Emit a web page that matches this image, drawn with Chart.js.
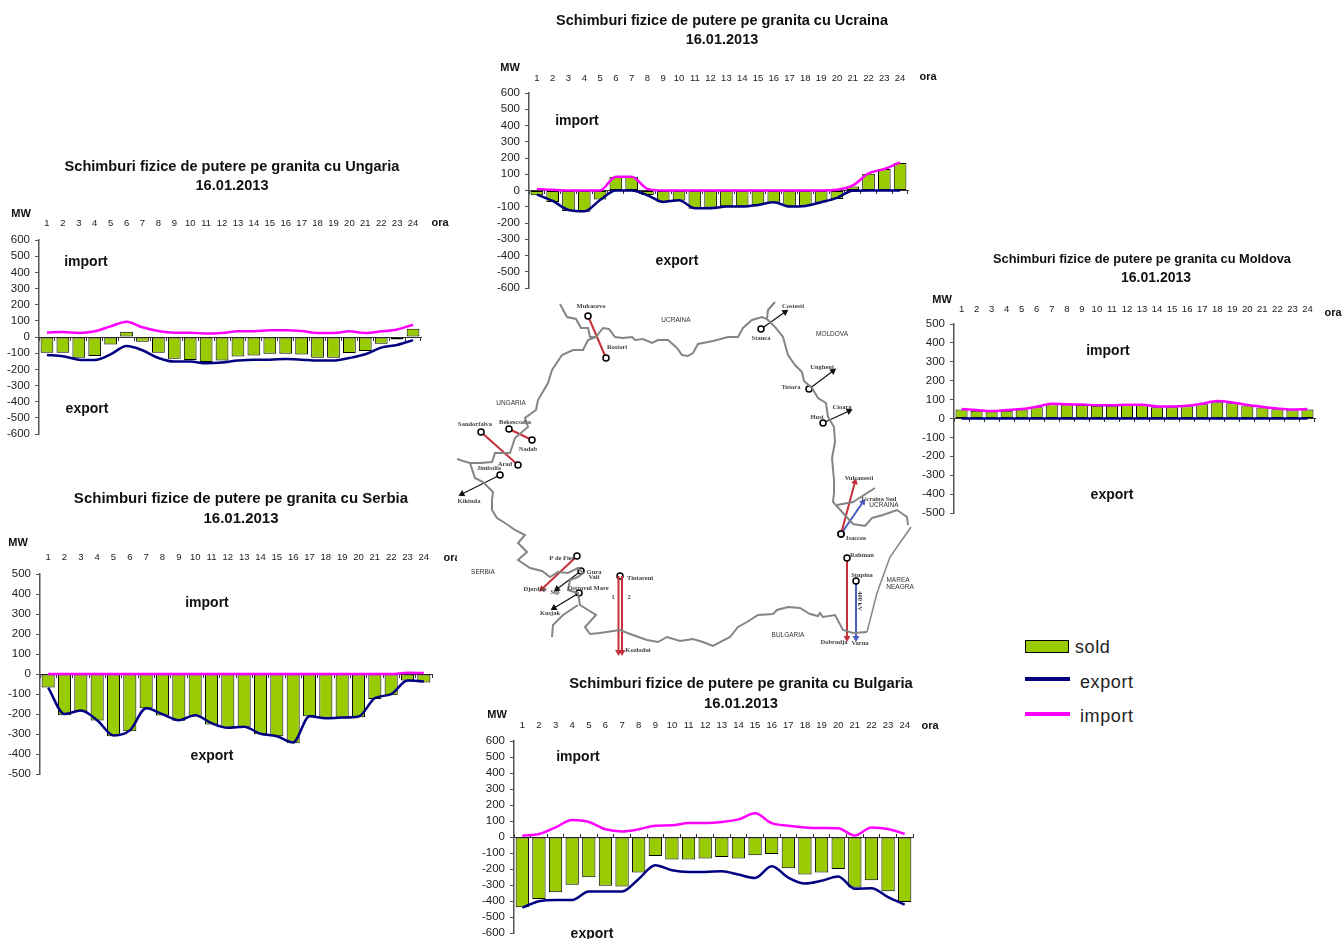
<!DOCTYPE html>
<html>
<head>
<meta charset="utf-8">
<title>Schimburi fizice de putere</title>
<script src="https://cdn.jsdelivr.net/npm/chart.js@4"></script>
<style>
html, body { margin: 0; padding: 0; background: #fff; overflow: hidden; width: 1342px; height: 939px; }
canvas { position: absolute; }
#map { background: #fff; z-index: 2; }
.lg { position: absolute; font: 18px "Liberation Sans", Arial, sans-serif; color: #222; letter-spacing: 0.6px; line-height: 20px; z-index: 3; }
.sw { position: absolute; z-index: 3; }
</style>
</head>
<body>
<canvas id="ungaria"></canvas>
<canvas id="ucraina"></canvas>
<canvas id="moldova"></canvas>
<canvas id="serbia"></canvas>
<canvas id="bulgaria"></canvas>
<canvas id="map"></canvas>

<div class="sw" style="left:1025px;top:640px;width:42px;height:11px;background:#99cc00;border:1px solid #000"></div>
<div class="lg" style="left:1075px;top:637px">sold</div>
<div class="sw" style="left:1025px;top:677px;width:45px;height:4px;background:#000080"></div>
<div class="lg" style="left:1080px;top:672px">export</div>
<div class="sw" style="left:1025px;top:712px;width:45px;height:4px;background:#ff00ff"></div>
<div class="lg" style="left:1080px;top:706px">import</div>

<script>
var hours = ['1','2','3','4','5','6','7','8','9','10','11','12','13','14','15','16','17','18','19','20','21','22','23','24'];

var ungariaSold = [-97,-97,-128,-117,-47,33,-29,-97,-134,-142,-154,-146,-121,-115,-103,-103,-109,-128,-128,-99,-86,-41,-16,51];
var ungariaExport = [-111,-119,-140,-142,-107,-56,-82,-130,-152,-152,-163,-158,-146,-140,-140,-136,-140,-146,-146,-130,-107,-66,-49,-19];
var ungariaImport = [27,31,25,35,66,95,60,37,27,27,21,25,35,35,41,41,37,25,25,35,25,35,47,76];

var ucrainaSold = [-29,-70,-126,-130,-56,85,85,-27,-72,-62,-113,-105,-97,-97,-89,-74,-99,-97,-74,-52,25,103,132,169];
var ucrainaExport = [-25,-64,-120,-128,-58,0,0,-29,-70,-60,-109,-109,-99,-99,-89,-72,-99,-95,-72,-45,-2,0,0,0];
var ucrainaImport = [10,4,0,0,0,85,85,10,0,0,0,0,0,0,0,0,0,0,0,4,31,105,132,173];

var moldovaSold = [48,41,37,41,48,60,76,74,72,67,67,71,71,60,60,65,76,86,81,69,58,49,44,48];
var moldovaExport = [0,0,0,0,0,0,0,0,0,0,0,0,0,0,0,0,0,0,0,0,0,0,0,0];
var moldovaImport = [50,45,40,45,50,62,78,75,74,70,70,73,73,64,64,68,78,92,85,72,62,53,48,50];

var serbiaSold = [-68,-206,-188,-233,-311,-286,-171,-208,-234,-209,-252,-269,-264,-301,-311,-346,-211,-219,-218,-216,-125,-106,-33,-42];
var serbiaExport = [-68,-200,-183,-231,-307,-282,-171,-201,-231,-206,-246,-269,-264,-299,-311,-342,-211,-221,-218,-213,-121,-101,-33,-37];
var serbiaImport = [0,0,0,0,0,0,0,0,0,0,0,0,0,0,0,0,0,0,0,0,0,0,6,5];

var bulgariaSold = [-439,-387,-345,-299,-252,-304,-310,-222,-119,-141,-141,-135,-125,-135,-114,-106,-195,-235,-222,-200,-316,-270,-339,-407];
var bulgariaExport = [-441,-401,-393,-393,-341,-341,-341,-262,-177,-208,-218,-218,-214,-235,-256,-183,-254,-291,-274,-247,-324,-320,-376,-422];
var bulgariaImport = [8,19,60,106,94,48,35,48,71,73,87,87,94,110,148,87,71,60,56,54,10,60,50,19];

// map: border lines, in picture coordinates
var borderNorth = [[560,304],[567,317],[576,319],[581,328],[588,328],[590,337],[596,337],[603,328],[609,329],[615,337],[623,338],[632,337],[635,340],[643,339],[652,343],[658,340],[668,340],[677,348],[682,355],[688,356],[693,353],[698,344],[713,341],[728,337],[738,337],[743,328],[752,320],[762,317],[767,319],[775,327],[783,337],[788,355],[795,365],[802,372],[804,381],[812,388],[818,398],[826,403],[828,417],[834,427],[835,442],[832,458],[834,480],[834,493],[833,502],[843,513],[853,524],[865,526],[872,518],[883,515],[897,510],[907,517],[908,525]];
var borderCostesti = [[767,319],[768,310],[775,302]];
var borderUkraineSouth = [[837,505],[853,502],[875,488]];
var coast = [[911,527],[890,557],[877,593],[867,632]];
var borderSouth = [[867,632],[853,633],[843,630],[835,615],[823,617],[820,613],[818,616],[810,614],[800,608],[788,607],[777,610],[773,614],[758,615],[747,622],[738,627],[730,637],[713,646],[703,642],[693,639],[680,641],[667,637],[658,642],[647,640],[630,634],[620,630],[600,633],[590,634],[585,627],[596,615],[580,605],[578,593],[568,590],[570,580],[578,577],[583,573],[578,568],[568,573],[558,572],[550,577],[542,571],[530,568],[518,560],[527,552],[518,543],[525,535],[515,530],[505,523],[497,518],[492,510],[492,500],[493,492],[483,482],[475,478],[470,463],[480,463],[492,462],[495,453],[510,453],[515,438],[528,427],[525,418],[536,410],[538,400],[548,383],[552,370],[562,355],[573,350],[583,350],[588,340],[596,337]];
var borderSpurWest = [[470,463],[463,461],[457,459]];
var borderSpurBulgaria = [[578,605],[563,615],[553,625],[552,637]];

var linkRed = '#c5303a';
var linkBlue = '#4a5cc0';
var linkBlack = '#111111';
// from, to, colour, end style, start circle size
var mapLinks = [
  [[588,316],[606,358],linkRed,'circle',3],
  [[481,432],[518,465],linkRed,'circle',3],
  [[509,429],[532,440],linkRed,'circle',3],
  [[500,475],[462,494],linkBlack,'triangle',3],
  [[761,329],[785,312],linkBlack,'triangle',3],
  [[809,389],[833,371],linkBlack,'triangle',3],
  [[823,423],[849,411],linkBlack,'triangle',3],
  [[841,534],[855,482],linkRed,'triangle',3],
  [[841,534],[863,502],linkBlue,'triangle',3],
  [[847,558],[847,638],linkRed,'triangle',3],
  [[856,581],[856,638],linkBlue,'triangle',3],
  [[618.5,576],[618.5,652],linkRed,'triangle',0],
  [[622,576],[622,652],linkRed,'triangle',0],
  [[620,576],[620,578],linkRed,'line',3],
  [[577,556],[542,589],linkRed,'triangle',3],
  [[581,571],[557,589],linkBlack,'triangle',3],
  [[579,593],[554,608],linkBlack,'triangle',3]
];

var countryLabels = [['UCRAINA',676,320],['UNGARIA',511,403],['MOLDOVA',832,334],['UCRAINA',884,505],['MAREA',898,580],['NEAGRA',900,587],['BULGARIA',788,635],['SERBIA',483,572]];
var placeLabels = [['Mukacevo',591,306],['Rosiori',617,347],['Sandorfalva',475,424],['Bekescsaba',515,422],['Nadab',528,449],['Arad',505,464],['Jimbolia',489,468],['Kikinda',469,501],['Costesti',793,306],['Stanca',761,338],['Ungheni',822,367],['Tutora',791,387],['Cioara',842,407],['Husi',817,417],['Vulcanesti',859,478],['Ucraina Sud',879,499],['Isaccea',856,538],['Rahman',862,555],['Stupina',862,575],['Dobrudja',834,642],['Varna',860,643],['P de Fier',562,558],['Gura',594,572],['Vaii',594,577],['Djerdap',535,589],['Sip',555,592],['Ostrovul Mare',588,588],['Kusjak',550,613],['Tintareni',640,578],['1',613,597],['2',629,597],['Kozlodui',638,650]];

Chart.defaults.font.family = '"Liberation Sans", Arial, sans-serif';
Chart.defaults.color = '#222';

function borderChart(id, cfg, sold, exp, imp) {
  var canvas = document.getElementById(id);
  canvas.width = cfg.w;
  canvas.height = cfg.bottom - cfg.y + 20;
  canvas.style.left = cfg.x + 'px';
  canvas.style.top = cfg.y + 'px';

  var notes = {
    id: 'notes',
    afterDatasetsDraw: function (chart) {
      var c = chart.ctx;
      var oy = cfg.y - 1;
      c.save();
      c.textAlign = 'center';
      c.textBaseline = 'middle';
      c.fillStyle = '#111';
      c.font = 'bold ' + cfg.titleSize + 'px "Liberation Sans", Arial, sans-serif';
      c.fillText(cfg.title, cfg.tx - cfg.x, cfg.ty[0] - oy);
      c.font = 'bold ' + (cfg.dateSize || cfg.titleSize) + 'px "Liberation Sans", Arial, sans-serif';
      c.fillText('16.01.2013', (cfg.dx || cfg.tx) - cfg.x, cfg.ty[1] - oy);
      c.font = 'bold 11px "Liberation Sans", Arial, sans-serif';
      c.fillText('MW', cfg.mw[0] - cfg.x, cfg.mw[1] - oy);
      c.fillText('ora', cfg.ora[0] - cfg.x, cfg.ora[1] - oy);
      c.font = 'bold 14px "Liberation Sans", Arial, sans-serif';
      c.fillText('import', cfg.imp[0] - cfg.x, cfg.imp[1] - oy);
      c.fillText('export', cfg.exp[0] - cfg.x, cfg.exp[1] - oy);
      c.restore();
    }
  };

  return new Chart(canvas, {
    data: {
      labels: hours,
      datasets: [
        { type: 'line', label: 'import', data: imp, borderColor: '#ff00ff', borderWidth: 2.5, pointRadius: 0, cubicInterpolationMode: 'monotone', order: 1 },
        { type: 'line', label: 'export', data: exp, borderColor: '#000080', borderWidth: 2.5, pointRadius: 0, cubicInterpolationMode: 'monotone', order: 2 },
        { type: 'bar', label: 'sold', data: sold, backgroundColor: '#99cc00', borderColor: '#000', borderWidth: 1, borderSkipped: false, barPercentage: 0.8, categoryPercentage: 1, order: 3 }
      ]
    },
    options: {
      responsive: false,
      animation: false,
      events: [],
      layout: {
        autoPadding: false,
        padding: { left: 0, top: 0, right: cfg.x + cfg.w - cfg.right, bottom: 20 }
      },
      plugins: {
        legend: { display: false },
        tooltip: { enabled: false },
        title: { display: false }
      },
      scales: {
        x: {
          position: 'top',
          grid: { display: false },
          border: { display: false },
          ticks: { font: { size: 9.5 }, padding: cfg.pad, maxRotation: 0, autoSkip: false },
          afterFit: function (s) { s.height = cfg.top - cfg.y; }
        },
        x2: {
          type: 'category',
          axis: 'x',
          position: { y: 0 },
          offset: true,
          border: { display: true, color: '#333', width: 1 },
          grid: { offset: true, drawOnChartArea: false, drawTicks: true, tickLength: cfg.tick, color: '#333' },
          ticks: { display: false }
        },
        y: {
          min: cfg.min,
          max: cfg.max,
          border: { display: true, color: '#555', width: 1.5 },
          grid: { drawOnChartArea: false, drawTicks: true, tickLength: 4, color: '#555' },
          ticks: { stepSize: 100, autoSkip: false, font: { size: 11.5 }, padding: 5 },
          afterFit: function (s) { s.width = cfg.left - cfg.x; }
        }
      }
    },
    plugins: [notes]
  });
}

borderChart('ungaria', {
  title: 'Schimburi fizice de putere pe granita cu Ungaria', titleSize: 14.6, tx: 232, ty: [166, 185],
  x: 0, y: 156, w: 464, left: 39, right: 421, top: 240, bottom: 434,
  min: -600, max: 600, pad: 3, tick: 3,
  mw: [21, 213], ora: [440, 222], imp: [86, 261], exp: [87, 408]
}, ungariaSold, ungariaExport, ungariaImport);

borderChart('ucraina', {
  title: 'Schimburi fizice de putere pe granita cu Ucraina', titleSize: 14.5, tx: 722, ty: [20, 39],
  x: 490, y: 10, w: 464, left: 529, right: 908, top: 93, bottom: 288,
  min: -600, max: 600, pad: 1, tick: 3,
  mw: [510, 67], ora: [928, 76], imp: [577, 120], exp: [677, 260]
}, ucrainaSold, ucrainaExport, ucrainaImport);

borderChart('moldova', {
  title: 'Schimburi fizice de putere pe granita cu Moldova', titleSize: 12.8, dateSize: 14, tx: 1142, dx: 1156, ty: [258, 277],
  x: 920, y: 248, w: 452, left: 954, right: 1315, top: 324, bottom: 513,
  min: -500, max: 500, pad: 1, tick: 3,
  mw: [942, 299], ora: [1333, 312], imp: [1108, 350], exp: [1112, 494]
}, moldovaSold, moldovaExport, moldovaImport);

borderChart('serbia', {
  title: 'Schimburi fizice de putere pe granita cu Serbia', titleSize: 15, tx: 241, ty: [498, 518],
  x: 0, y: 488, w: 482, left: 40, right: 432, top: 574, bottom: 774,
  min: -500, max: 500, pad: 3, tick: 3,
  mw: [18, 542], ora: [452, 557], imp: [207, 602], exp: [212, 755]
}, serbiaSold, serbiaExport, serbiaImport);

borderChart('bulgaria', {
  title: 'Schimburi fizice de putere pe granita cu Bulgaria', titleSize: 14.8, tx: 741, ty: [683, 703],
  x: 480, y: 673, w: 522, left: 514, right: 913, top: 741, bottom: 933,
  min: -600, max: 600, pad: 2, tick: -4,
  mw: [497, 714], ora: [930, 725], imp: [578, 756], exp: [592, 933]
}, bulgariaSold, bulgariaExport, bulgariaImport);

function drawMap() {
  var canvas = document.getElementById('map');
  canvas.width = 458;
  canvas.height = 370;
  canvas.style.left = '457px';
  canvas.style.top = '298px';

  var sets = [];
  [borderNorth, borderCostesti, borderUkraineSouth, coast, borderSouth, borderSpurWest, borderSpurBulgaria].forEach(function (line) {
    sets.push({ data: line, showLine: true, borderColor: '#858585', borderWidth: line === coast ? 1.5 : 2, pointRadius: 0 });
  });
  mapLinks.forEach(function (l) {
    var rot = Math.atan2(l[1][0] - l[0][0], l[0][1] - l[1][1]) * 180 / Math.PI;
    var arrow = l[3] === 'triangle';
    sets.push({
      data: [l[0], l[1]],
      showLine: true,
      borderColor: l[2],
      borderWidth: arrow && l[2] === linkBlack ? 1.2 : 2,
      pointStyle: ['circle', l[3] === 'line' ? 'circle' : l[3]],
      pointRadius: [l[4], l[3] === 'line' ? 0 : (arrow ? 4 : 3)],
      pointRotation: [0, arrow ? rot : 0],
      pointBackgroundColor: ['#fff', arrow ? l[2] : '#fff'],
      pointBorderColor: ['#000', arrow ? l[2] : '#000'],
      pointBorderWidth: [1.5, arrow ? 0 : 1.5]
    });
  });

  var mapText = {
    id: 'mapText',
    afterDatasetsDraw: function (chart) {
      var c = chart.ctx, sx = chart.scales.x, sy = chart.scales.y;
      c.save();
      c.textAlign = 'center';
      c.textBaseline = 'middle';
      c.fillStyle = '#333';
      c.font = '6.5px "Liberation Sans", Arial, sans-serif';
      countryLabels.forEach(function (t) { c.fillText(t[0], sx.getPixelForValue(t[1]), sy.getPixelForValue(t[2])); });
      c.fillStyle = '#444';
      c.font = 'bold 6.5px "Liberation Serif", serif';
      placeLabels.forEach(function (t) { c.fillText(t[0], sx.getPixelForValue(t[1]), sy.getPixelForValue(t[2])); });
      c.translate(sx.getPixelForValue(860), sy.getPixelForValue(601));
      c.rotate(Math.PI / 2);
      c.fillText('400 kV', 0, 0);
      c.restore();
    }
  };

  new Chart(canvas, {
    type: 'scatter',
    data: { datasets: sets },
    options: {
      responsive: false,
      animation: false,
      events: [],
      layout: { autoPadding: false, padding: 0 },
      plugins: { legend: { display: false }, tooltip: { enabled: false } },
      scales: {
        x: { display: false, min: 457, max: 915 },
        y: { display: false, min: 298, max: 668, reverse: true }
      }
    },
    plugins: [mapText]
  });
}
drawMap();
</script>
</body>
</html>
